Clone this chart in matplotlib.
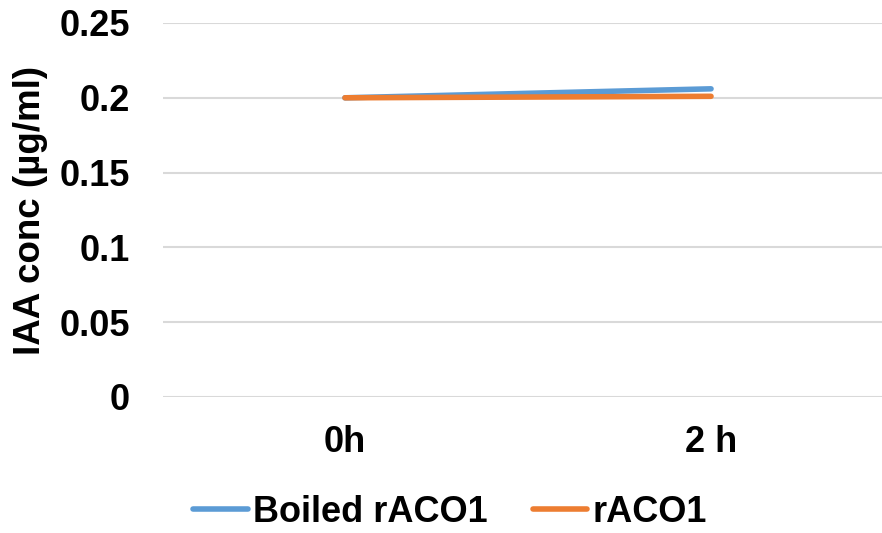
import matplotlib.pyplot as plt

# IAA concentration over time
times = ["0h", "2 h"]
boiled_raco1 = [0.200, 0.206]
raco1 = [0.200, 0.201]
y_ticks = [0, 0.05, 0.1, 0.15, 0.2, 0.25]
y_tick_labels = ["0", "0.05", "0.1", "0.15", "0.2", "0.25"]

plt.rcParams["font.family"] = ["Liberation Sans", "DejaVu Sans"]
plt.rcParams["font.weight"] = "bold"
FS = 26

W, H = 882, 533
fig = plt.figure(figsize=(W / 100, H / 100), dpi=100)
ax = fig.add_axes([163 / W, 1 - 397 / H, 1 - 163 / W, (397 - 23) / H])

x = range(len(times))
ax.plot(x, boiled_raco1, color="#5B9BD5", lw=4, solid_capstyle="round",
        label="Boiled rACO1", clip_on=False, zorder=3)
ax.plot(x, raco1, color="#ED7D31", lw=4, solid_capstyle="round",
        label="rACO1", clip_on=False, zorder=3)

ax.set_xlim(-0.497, 1.467)
ax.set_ylim(0, 0.25)
ax.set_xticks(list(x))
ax.set_xticklabels(times, fontsize=FS, fontweight="bold")
ax.set_yticks(y_ticks)
ax.set_yticklabels(y_tick_labels, fontsize=FS, fontweight="bold")
ax.tick_params(axis="both", length=0)
ax.tick_params(axis="y", pad=24)
ax.tick_params(axis="x", pad=20)

ax.grid(axis="y", color="#d9d9d9", lw=1.5)
ax.set_axisbelow(True)
for s in ax.spines.values():
    s.set_visible(False)

fig.text(30 / W, 1 - 210 / H, "IAA conc (µg/ml)", rotation=90,
         ha="center", va="center", fontsize=26.5, fontweight="bold")

fig.legend(loc="center", bbox_to_anchor=(450 / W, 1 - 512 / H), ncol=2,
           frameon=False, fontsize=FS, handlelength=1.5,
           handletextpad=0.15, columnspacing=1.25, borderaxespad=0)

fig.savefig("out.png", dpi=100)
